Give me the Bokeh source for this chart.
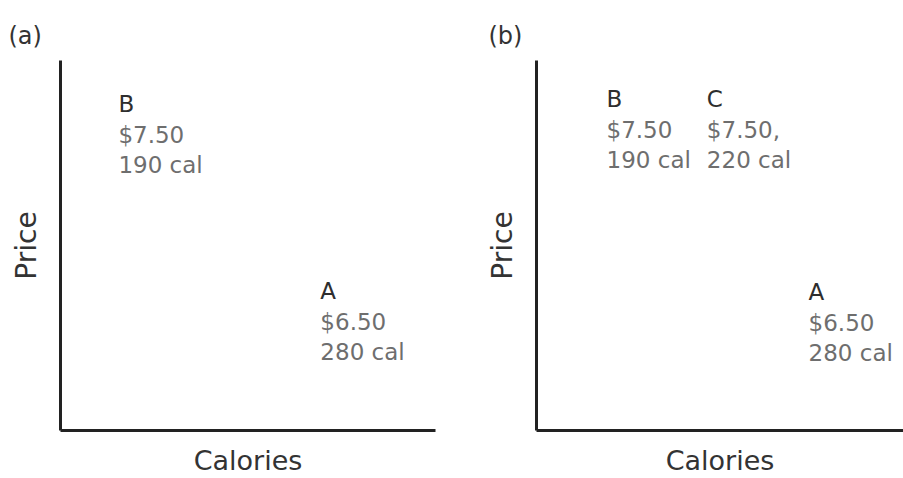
from bokeh.plotting import figure
from bokeh.layouts import row
from bokeh.models import ColumnDataSource, FixedTicker, Range1d
from bokeh.core.properties import value
from bokeh.embed import file_html
from bokeh.resources import INLINE

# ---- data ----
a_labels = ["B", "A"]
a_calories = [190, 280]
a_prices = [7.50, 6.50]
a_price_text = ["$7.50", "$6.50"]
a_cal_text = ["190 cal", "280 cal"]

b_labels = ["B", "C", "A"]
b_calories = [190, 220, 280]
b_prices = [7.50, 7.50, 6.50]
b_price_text = ["$7.50", "$7.50,", "$6.50"]
b_cal_text = ["190 cal", "220 cal", "280 cal"]

FONT = value("DejaVu Sans")


def panel(title, labels, cals, prices, ptxt, ctxt, x_rng, y_rng, width,
          b_left, b_right, t_off, shifts):
    p = figure(width=width, height=478, x_range=Range1d(*x_rng), y_range=Range1d(*y_rng),
               output_backend="svg", toolbar_location=None,
               min_border_left=b_left, min_border_right=b_right,
               min_border_top=60, min_border_bottom=47, title=title)
    p.title.align = "left"
    p.title.offset = t_off
    p.title.standoff = 21
    p.title.text_font = "DejaVu Sans"
    p.title.text_font_size = "24px"
    p.title.text_font_style = "normal"
    p.title.text_color = "#333333"
    p.outline_line_color = None
    p.grid.visible = False
    p.background_fill_color = "white"
    p.border_fill_color = "white"
    for ax in (p.xaxis[0], p.yaxis[0]):
        ax.ticker = FixedTicker(ticks=[])
        ax.major_tick_out = 0
        ax.major_tick_in = 0
        ax.minor_tick_out = 0
        ax.minor_tick_in = 0
        ax.major_label_standoff = 0
        ax.axis_line_width = 3
        ax.axis_line_color = "#222222"
        ax.axis_label_text_font = "DejaVu Sans"
        ax.axis_label_text_font_style = "normal"
        ax.axis_label_text_color = "#333333"
    p.xaxis.axis_label = "Calories"
    p.yaxis.axis_label = "Price"
    p.xaxis.axis_label_text_font_size = "27px"
    p.yaxis.axis_label_text_font_size = "28px"
    p.xaxis.axis_label_standoff = 14
    p.yaxis.axis_label_standoff = 18

    src = ColumnDataSource(dict(x=cals, y=prices, lab=labels, pt=ptxt, ct=ctxt, xo=shifts))
    p.text(x="x", y="y", text="lab", source=src, x_offset="xo", text_font=FONT,
           text_font_size="23px", text_color="#2e2e2e", text_baseline="top", text_align="left")
    p.text(x="x", y="y", text="pt", source=src, x_offset="xo", y_offset=31, text_font=FONT,
           text_font_size="23px", text_color="#6e6e6e", text_baseline="top", text_align="left")
    p.text(x="x", y="y", text="ct", source=src, x_offset="xo", y_offset=61, text_font=FONT,
           text_font_size="23px", text_color="#6e6e6e", text_baseline="top", text_align="left")
    return p


p1 = panel("(a)", a_labels, a_calories, a_prices, a_price_text, a_cal_text,
           (164.2, 331.3), (5.682, 7.666), 460, 60, 25, -52, [0, 0])
p2 = panel("(b)", b_labels, b_calories, b_prices, b_price_text, b_cal_text,
           (158.8, 322.3), (5.713, 7.635), 443, 76, 0, -48, [0, 33, 0])

layout = row(p1, p2)
open("out.html", "w").write(file_html(layout, INLINE))
